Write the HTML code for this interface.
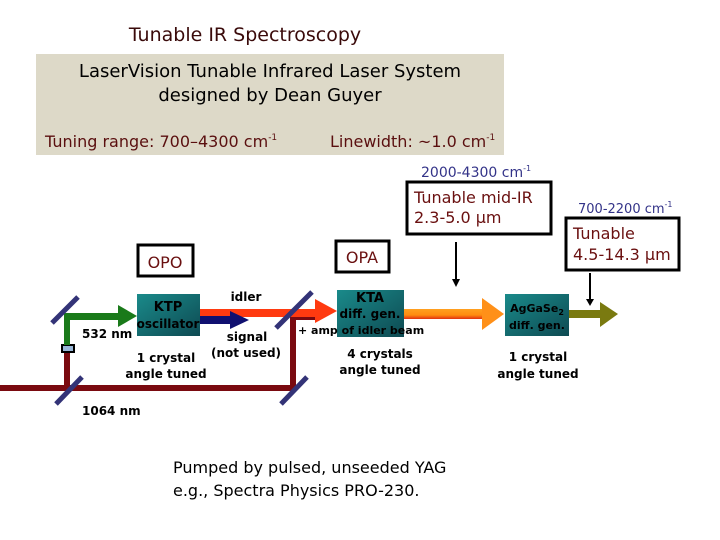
<!DOCTYPE html>
<html><head><meta charset="utf-8"><style>
body{margin:0;background:#fff;width:720px;height:540px;overflow:hidden}
svg{display:block}
text{font-family:"Comic Sans MS","DejaVu Sans","Liberation Sans",sans-serif}
</style></head><body>
<svg width="720" height="540" viewBox="0 0 720 540">
<defs>
<linearGradient id="tl" x1="0" y1="0" x2="1" y2="1"><stop offset="0" stop-color="#1a8a8a"/><stop offset="1" stop-color="#0e4a52"/></linearGradient>
<linearGradient id="or" x1="0" y1="0" x2="0" y2="1"><stop offset="0" stop-color="#ffa020"/><stop offset="0.6" stop-color="#ff8c10"/><stop offset="1" stop-color="#e03010"/></linearGradient>
</defs>
<text x="245" y="41" font-size="19" fill="#3a0a0a" text-anchor="middle">Tunable IR Spectroscopy</text>
<rect x="36" y="54" width="468" height="101" fill="#ddd9c8"/>
<text x="270" y="77" font-size="18" text-anchor="middle" fill="#000">LaserVision Tunable Infrared Laser System</text>
<text x="270" y="101" font-size="18" text-anchor="middle" fill="#000">designed by Dean Guyer</text>
<text x="45" y="147" font-size="16" fill="#5a0f0f">Tuning range: 700–4300 cm<tspan font-size="9" dy="-7">-1</tspan></text>
<text x="330" y="147" font-size="16" fill="#5a0f0f">Linewidth: ~1.0 cm<tspan font-size="9" dy="-7">-1</tspan></text>
<text x="421" y="177" font-size="14" fill="#333388">2000-4300 cm<tspan font-size="8" dy="-6">-1</tspan></text>
<rect x="407" y="182" width="144" height="52" fill="#fff" stroke="#000" stroke-width="3"/>
<text x="414" y="203" font-size="16" fill="#6a1010">Tunable mid-IR</text>
<text x="414" y="223" font-size="16" fill="#6a1010">2.3-5.0 μm</text>
<text x="578" y="213" font-size="13" fill="#333388">700-2200 cm<tspan font-size="8" dy="-6">-1</tspan></text>
<rect x="566" y="218" width="113" height="52" fill="#fff" stroke="#000" stroke-width="3"/>
<text x="573" y="239" font-size="16" fill="#6a1010">Tunable</text>
<text x="573" y="260" font-size="16" fill="#6a1010">4.5-14.3 μm</text>
<line x1="456" y1="242" x2="456" y2="280" stroke="#000" stroke-width="2"/>
<polygon points="452,279 460,279 456,287" fill="#000"/>
<line x1="590" y1="273" x2="590" y2="300" stroke="#000" stroke-width="2"/>
<polygon points="586,299 594,299 590,306" fill="#000"/>
<rect x="138" y="245" width="55" height="31" fill="#fff" stroke="#000" stroke-width="3"/>
<text x="165" y="268" font-size="16" fill="#6a1010" text-anchor="middle">OPO</text>
<rect x="336" y="241" width="53" height="31" fill="#fff" stroke="#000" stroke-width="3"/>
<text x="362" y="263" font-size="16" fill="#6a1010" text-anchor="middle">OPA</text>
<rect x="0" y="385" width="297" height="6" fill="#7a0a10"/>
<rect x="290" y="314" width="6" height="77" fill="#7a0a10"/>
<rect x="64" y="318" width="6" height="70" fill="#7a0a10"/>
<rect x="290" y="314" width="30" height="6" fill="#7a0a10"/>
<rect x="62" y="345" width="12" height="7" fill="#9ab8d8" stroke="#000" stroke-width="2"/>
<rect x="64" y="313" width="6" height="32" fill="#1a7a1a"/>
<rect x="64" y="313" width="56" height="7" fill="#1a7a1a"/>
<polygon points="118,305 137,316 118,327" fill="#1a7a1a"/>
<rect x="200" y="309" width="115" height="8" fill="#ff3a10"/>
<polygon points="315,299 337,311 315,323" fill="#ff3a10"/>
<rect x="200" y="316" width="35" height="8" fill="#101070"/>
<polygon points="230,311 249,320 230,329" fill="#101070"/>
<rect x="404" y="309" width="82" height="10" fill="url(#or)"/>
<polygon points="482,298 504,314 482,330" fill="#ff9018"/>
<rect x="569" y="310" width="35" height="8" fill="#7a7a10"/>
<polygon points="600,302 618,314 600,327" fill="#7a7a10"/>
<g stroke="#333377" stroke-width="5">
<line x1="52" y1="323" x2="78" y2="297"/>
<line x1="56" y1="404" x2="82" y2="377"/>
<line x1="276" y1="328" x2="312" y2="292"/>
<line x1="281" y1="404" x2="307" y2="377"/>
</g>
<rect x="137" y="294" width="63" height="42" fill="url(#tl)"/>
<text x="168" y="311" font-size="13" font-weight="bold" text-anchor="middle" fill="#000">KTP</text>
<text x="168" y="328" font-size="12" font-weight="bold" text-anchor="middle" fill="#000">oscillator</text>
<rect x="337" y="290" width="67" height="47" fill="url(#tl)"/>
<text x="370" y="302" font-size="13" font-weight="bold" text-anchor="middle" fill="#000">KTA</text>
<text x="370" y="318" font-size="12" font-weight="bold" text-anchor="middle" fill="#000">diff. gen.</text>
<rect x="505" y="294" width="64" height="42" fill="url(#tl)"/>
<text x="537" y="312" font-size="11" font-weight="bold" text-anchor="middle" fill="#000">AgGaSe<tspan font-size="8" dy="3">2</tspan></text>
<text x="537" y="329" font-size="11" font-weight="bold" text-anchor="middle" fill="#000">diff. gen.</text>
<g font-size="12" font-weight="bold" fill="#000">
<text x="82" y="338">532 nm</text>
<text x="166" y="362" text-anchor="middle">1 crystal</text>
<text x="166" y="378" text-anchor="middle">angle tuned</text>
<text x="246" y="301" text-anchor="middle">idler</text>
<text x="247" y="341" text-anchor="middle">signal</text>
<text x="246" y="357" text-anchor="middle">(not used)</text>
<text x="298" y="334" font-size="11">+ amp of  idler  beam</text>
<text x="380" y="358" text-anchor="middle">4 crystals</text>
<text x="380" y="374" text-anchor="middle">angle tuned</text>
<text x="538" y="361" text-anchor="middle">1 crystal</text>
<text x="538" y="378" text-anchor="middle">angle tuned</text>
<text x="82" y="415">1064 nm</text>
</g>
<text x="173" y="473" font-size="16" fill="#000">Pumped by pulsed, unseeded YAG</text>
<text x="173" y="496" font-size="16" fill="#000">e.g., Spectra Physics PRO-230.</text>
</svg>
</body></html>
